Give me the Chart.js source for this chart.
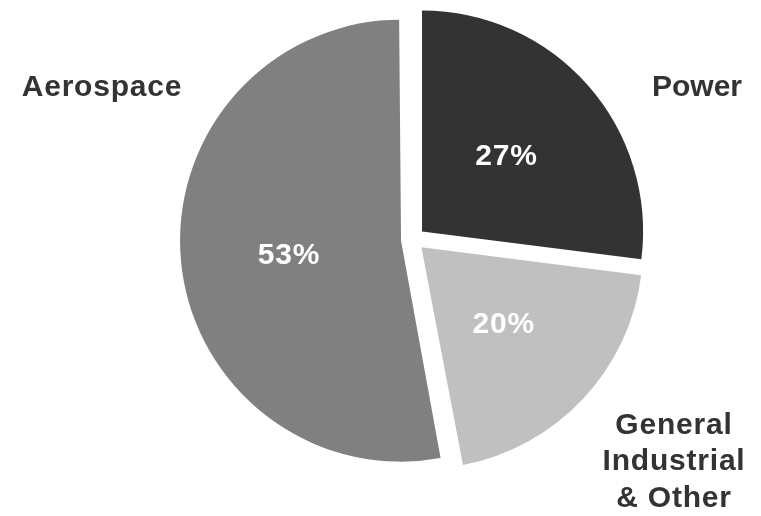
<!DOCTYPE html>
<html>
<head>
<meta charset="utf-8">
<script src="https://cdn.jsdelivr.net/npm/chart.js@4/dist/chart.umd.min.js"></script>
<style>
  html, body { margin: 0; padding: 0; background: #fff; }
  #wrap { width: 761px; height: 516px; position: relative; }
</style>
</head>
<body>
<div id="wrap"><canvas id="segmentChart"></canvas></div>
<script>
const segments = ['Power', 'General Industrial & Other', 'Aerospace'];
const shares = [27, 20, 53];
const segmentColors = ['#333333', '#c0c0c0', '#808080'];
const segmentOffsets = [48, 46, 48];

const FONT = "bold 30px 'Liberation Sans', Arial, sans-serif";

// Chart.js grows the radius of slices wider than 180deg when they are offset,
// pull that back so every slice keeps the same radius
const evenRadius = {
  id: 'evenRadius',
  afterDatasetsUpdate(chart) {
    chart.getDatasetMeta(0).data.forEach((arc, i) => {
      if (arc.circumference > Math.PI) {
        arc.outerRadius -= segmentOffsets[i] / 4;
      }
    });
  },
};

// percentages inside slices, segment names outside
const pieLabels = {
  id: 'pieLabels',
  afterDatasetsDraw(chart) {
    const { ctx } = chart;
    const meta = chart.getDatasetMeta(0);
    ctx.save();
    ctx.font = FONT;
    ctx.letterSpacing = '0.8px';
    ctx.textAlign = 'center';
    ctx.textBaseline = 'middle';

    meta.data.forEach((arc, i) => {
      const mid = (arc.startAngle + arc.endAngle) / 2;
      const dist = 221 * 0.5 + 14;
      ctx.fillStyle = '#ffffff';
      ctx.fillText(`${shares[i]}%`, arc.x + Math.cos(mid) * dist, arc.y + Math.sin(mid) * dist + (i === 2 ? 5 : 0));
    });

    const cx = meta.data[0].x;
    const cy = meta.data[0].y;
    ctx.fillStyle = '#333333';
    ctx.letterSpacing = '0px';
    ctx.fillText('Power', cx + 284, cy - 152);
    ctx.letterSpacing = '0.8px';
    ctx.fillText('Aerospace', cx - 311, cy - 152);
    ['General', 'Industrial', '& Other'].forEach((line, j) => {
      ctx.fillText(line, cx + 261, cy + 186 + j * 36.5);
    });
    ctx.restore();
  },
};

const ctx = document.getElementById('segmentChart').getContext('2d');
// eslint-disable-next-line no-undef, no-unused-vars
const chart = new Chart(ctx, {
  type: 'pie',
  data: {
    labels: segments,
    datasets: [{
      data: shares,
      backgroundColor: segmentColors,
      borderWidth: 0,
      offset: segmentOffsets,
      radius: 221,
      clip: false,
    }],
  },
  options: {
    responsive: true,
    maintainAspectRatio: false,
    animation: false,
    layout: { padding: { left: 65, right: 0, top: 0, bottom: 37 } },
    plugins: {
      legend: { display: false },
      tooltip: { enabled: false },
    },
  },
  plugins: [evenRadius, pieLabels],
});
</script>
</body>
</html>
